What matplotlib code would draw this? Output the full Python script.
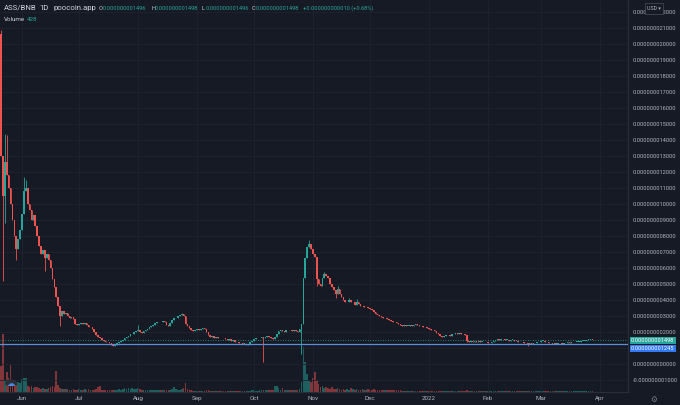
import matplotlib
matplotlib.use('Agg')
import matplotlib.pyplot as plt
import matplotlib.dates as mdates
from matplotlib.patches import Rectangle, Circle
import datetime as dt

# ---------------- data (price in units of 1e-9 BNB) ----------------
start_date = dt.date(2021, 5, 21)
first_open = 20.6
close = [
    13.0, 10.5, 12.6, 11.8, 11.0, 10.0, 9.0, 8.0, 7.2, 7.8,
    8.4, 9.4, 10.8, 11.0, 10.0, 9.6, 9.0, 9.3, 8.6, 8.0,
    7.4, 6.9, 7.1, 6.6, 6.9, 6.5, 6.0, 5.3, 4.8, 4.2,
    3.6, 3.0, 3.3, 3.1, 3.2, 3.0, 2.9, 2.95, 2.8, 2.5,
    2.45, 2.5, 2.55, 2.5, 2.55, 2.45, 2.3, 2.3, 2.2, 2.0,
    1.8, 1.7, 1.6, 1.5, 1.45, 1.4, 1.35, 1.3, 1.2, 1.15,
    1.2, 1.3, 1.35, 1.45, 1.5, 1.6, 1.7, 1.75, 1.85, 1.9,
    2.0, 2.05, 2.1, 2.0, 1.95, 2.05, 2.15, 2.2, 2.3, 2.35,
    2.45, 2.55, 2.6, 2.65, 2.6, 2.7, 2.6, 2.45, 2.4, 2.55,
    2.75, 2.85, 2.9, 3.0, 3.05, 3.1, 3.0, 2.5, 2.35, 2.25,
    2.15, 2.05, 2.15, 2.2, 2.15, 2.2, 2.25, 2.2, 2.0, 1.8,
    1.7, 1.75, 1.65, 1.7, 1.65, 1.6, 1.65, 1.6, 1.55, 1.5,
    1.55, 1.45, 1.5, 1.4, 1.35, 1.3, 1.3, 1.25, 1.25, 1.2,
    1.25, 1.35, 1.45, 1.55, 1.6, 1.6, 1.65, 1.7, 1.65, 1.7,
    1.75, 1.7, 1.65, 1.55, 1.7, 1.85, 2.05, 2.15, 2.05, 2.0,
    2.1, 2.15, 2.1, 2.05, 2.1, 2.05, 2.0, 2.2, 2.5, 5.4,
    6.6, 7.3, 7.5, 7.2, 6.9, 6.7, 5.3, 5.0, 4.9, 5.4,
    5.6, 5.5, 5.4, 5.0, 4.8, 4.6, 4.4, 4.7, 4.4, 4.2,
    4.0, 3.85, 3.9, 4.0, 3.85, 3.9, 3.7, 3.9, 3.75, 3.6,
    3.6, 3.55, 3.55, 3.5, 3.45, 3.35, 3.25, 3.15, 3.05, 3.0,
    2.95, 2.85, 2.85, 2.8, 2.75, 2.7, 2.65, 2.6, 2.55, 2.5,
    2.45, 2.4, 2.45, 2.4, 2.4, 2.45, 2.4, 2.45, 2.5, 2.45,
    2.4, 2.35, 2.3, 2.3, 2.25, 2.2, 2.15, 2.1, 2.05, 1.95,
    1.85, 1.75, 1.7, 1.75, 1.8, 1.8, 1.75, 1.85, 1.9, 1.95,
    1.9, 1.95, 1.9, 1.85, 1.8, 1.45, 1.4, 1.45, 1.4, 1.45,
    1.4, 1.45, 1.4, 1.4, 1.35, 1.35, 1.3, 1.3, 1.35, 1.45,
    1.5, 1.55, 1.5, 1.55, 1.55, 1.5, 1.5, 1.45, 1.5, 1.5,
    1.45, 1.45, 1.4, 1.35, 1.35, 1.3, 1.3, 1.25, 1.3, 1.25,
    1.3, 1.3, 1.35, 1.4, 1.45, 1.45, 1.4, 1.35, 1.3, 1.3,
    1.25, 1.3, 1.25, 1.3, 1.3, 1.25, 1.3, 1.3, 1.35, 1.3,
    1.35, 1.35, 1.4, 1.4, 1.4, 1.45, 1.45, 1.45, 1.5, 1.5,
    1.5, 1.498,
]
wick_high = {0: 20.9, 2: 14.4, 3: 14.3, 12: 11.7, 13: 11.5, 72: 2.45,
             95: 3.2, 162: 7.75, 170: 5.75, 177: 4.9, 183: 4.15, 187: 4.05}
wick_low = {1: 5.2, 2: 8.8, 8: 6.5, 23: 5.8, 31: 2.4, 59: 1.1, 138: 0.1,
            158: 0.6, 166: 4.9, 176: 4.1, 245: 1.35, 277: 1.1}
volume = [
    26, 58, 12, 20, 14, 27, 10, 9, 7, 10,
    9, 13, 14, 14, 6, 5, 6, 4, 5, 5,
    4, 3, 4, 3, 3, 4, 5, 6, 5, 21,
    7, 4, 3, 3, 3, 3, 2, 2, 3, 2,
    2, 3, 2, 2, 3, 2, 3, 2, 2, 2,
    3, 5, 6, 2, 2, 2, 2, 2, 2, 2,
    2, 2, 3, 2, 3, 4, 3, 4, 3, 4,
    3, 3, 4, 3, 2, 2, 2, 2, 2, 2,
    2, 2, 2, 2, 2, 2, 2, 2, 2, 2,
    3, 5, 3, 2, 2, 3, 4, 9, 3, 2,
    2, 1.5, 1.5, 1.5, 1.5, 1.5, 1.5, 1.5, 2, 2,
    1.5, 1.5, 1.5, 1.5, 1.5, 1.5, 1.5, 1.5, 1.5, 1.5,
    1.5, 1.5, 1.5, 1.5, 1.5, 1.5, 1.5, 1.5, 1.5, 1.5,
    1.5, 1.5, 2, 2, 1.5, 1.5, 2, 2, 2, 2,
    2, 2, 2, 2, 6, 6, 4, 2, 4, 2,
    2, 2, 2, 2, 2, 2, 2, 3, 10, 45,
    30, 18, 12, 10, 14, 20, 12, 8, 5, 6,
    4, 5, 4, 3, 5, 3, 3, 4, 3, 2,
    3, 2, 3, 2, 4, 3, 2, 3, 2, 2,
    3, 2, 2, 3, 2, 2, 3, 2, 2, 2,
    2, 2, 2, 2, 2, 2, 2, 2, 2, 2,
    2, 1.5, 1.5, 1.5, 1.5, 1.5, 1.5, 1.5, 1.5, 1.5,
    1.5, 1.5, 1.5, 1.5, 1.5, 1.5, 1.5, 1.5, 1.5, 1.5,
    1.5, 1.5, 1.5, 1.5, 1.5, 1.5, 1.5, 1.5, 1.5, 1.5,
    1.5, 1.5, 1.5, 1.5, 1.5, 2, 1.5, 1.5, 1.5, 1.5,
    1, 1, 1, 1, 1, 1, 1, 1, 1, 1,
    1, 1, 1, 1, 1, 1, 1, 1, 1, 1,
    1, 1, 1, 1, 1, 1, 1, 1, 1, 1,
    1, 1, 1, 1, 1, 1, 1, 1, 1, 1,
    1, 1, 1, 1, 1, 1, 1, 1, 1, 1,
    1, 1, 1, 1, 1, 1, 1, 1, 1, 1,
    1, 1,
]
month_ticks = ['2021-06-01', '2021-07-01', '2021-08-01', '2021-09-01', '2021-10-01',
               '2021-11-01', '2021-12-01', '2022-01-01', '2022-02-01', '2022-03-01',
               '2022-04-01']
month_labels = ['Jun', 'Jul', 'Aug', 'Sep', 'Oct', 'Nov', 'Dec', '2022', 'Feb', 'Mar', 'Apr']
price_ticks = list(range(-1, 23))
hidden_ticks = [1]          # label covered by the price-scale badges
last_price = 1.498
line_price = 1.245
UNIT = 1e-9

# ---------------- style ----------------
BG = '#161a25'
GRID = '#1f2330'
UP = '#26a69a'
DOWN = '#ef5350'
TXT = '#b2b5be'
plt.rcParams['font.family'] = ['Roboto', 'DejaVu Sans']

W, H = 680, 405
fig = plt.figure(figsize=(6.8, 4.05), dpi=100, facecolor=BG)

def fx(px):
    return px / W

def fy(py):
    return 1 - py / H

ax = fig.add_axes([0, fy(392), fx(628), 392 / H])
axv = ax.twinx()
ax.set_zorder(2)
axv.set_zorder(1)
ax.patch.set_visible(False)
axv.patch.set_facecolor(BG)

n = len(close)
dates = [start_date + dt.timedelta(days=i) for i in range(n)]
xs = mdates.date2num(dates)
opens = [first_open] + close[:-1]
highs, lows, cols, bott, hts = [], [], [], [], []
for i in range(n):
    o, c = opens[i], close[i]
    highs.append(wick_high.get(i, max(o, c)) * UNIT)
    lows.append(wick_low.get(i, min(o, c)) * UNIT)
    cols.append(UP if c >= o else DOWN)
    bott.append(min(o, c) * UNIT)
    hts.append(max(abs(c - o), 0.035) * UNIT)

# volume
axv.bar(xs, volume, width=0.85, color=cols, alpha=0.5, linewidth=0)
axv.set_ylim(0, 392)
axv.axis('off')

# candles
ax.vlines(xs, lows, highs, colors=cols, linewidth=0.6, zorder=3)
ax.bar(xs, hts, bottom=bott, width=0.85, color=cols, linewidth=0, zorder=4)

x0 = mdates.date2num(start_date)
ax.set_xlim(x0 - 0.57, x0 + 329.73)
ax.set_ylim((364 - 392) / 16 * UNIT, 364 / 16 * UNIT)

# price lines
ax.axhline(last_price * UNIT, color=UP, lw=0.6, ls=(0, (1, 2)), zorder=5)
ax.axhline(line_price * UNIT, color='#5b8dd9', lw=0.9, zorder=5)

# grid / ticks
ax.set_yticks([tk * UNIT for tk in price_ticks])
ax.set_yticklabels([('' if tk in hidden_ticks else '%.12f' % (tk * UNIT)) for tk in price_ticks])
ax.yaxis.tick_right()
ax.set_xticks([mdates.date2num(dt.date.fromisoformat(d)) for d in month_ticks])
ax.set_xticklabels(month_labels)
ax.tick_params(axis='y', length=0, pad=3.5, labelsize=4.1, labelcolor=TXT)
ax.tick_params(axis='x', length=0, pad=3.2, labelsize=4.5, labelcolor=TXT)
ax.grid(True, color=GRID, lw=0.6, zorder=0)
ax.set_axisbelow(True)
for s in ['top', 'left']:
    ax.spines[s].set_visible(False)
for s in ['right', 'bottom']:
    ax.spines[s].set_color('#2a2e39')
    ax.spines[s].set_linewidth(0.8)

# header text
def t(px, py, s, size, color, **kw):
    fig.text(fx(px), fy(py), s, fontsize=size, color=color, va='center', ha='left', **kw)

t(4, 8, 'ASS/BNB', 5.6, '#d1d4dc')
t(39, 8, '1D', 5.6, '#d1d4dc')
t(53, 8, 'poocoin.app', 5.6, '#d1d4dc')
for lx, letter, val in [(99, 'O', '0.000000001496'), (151, 'H', '0.000000001498'),
                        (202, 'L', '0.000000001496'), (252, 'C', '0.000000001498')]:
    t(lx, 8, letter, 4.1, '#d1d4dc')
    t(lx + 4, 8, val, 4.1, UP)
t(303, 8, '+0.000000000010 (+0.68%)', 4.1, UP)
t(4, 19.5, 'Volume', 4.5, '#d1d4dc')
t(27, 19.5, '428', 4.5, UP)

# price scale labels
fig.text(fx(631), fy(340.3), '0.000000001498', fontsize=4.1, color='white', va='center',
         ha='left', bbox=dict(boxstyle='square,pad=0.2', fc=UP, ec='none'), zorder=10)
fig.text(fx(631), fy(348.3), '0.000000001245', fontsize=4.1, color='white', va='center',
         ha='left', bbox=dict(boxstyle='square,pad=0.2', fc='#3179f5', ec='none'), zorder=10)

# USD button
fig.patches.append(Rectangle((fx(645), fy(14)), fx(18), 11 / H, transform=fig.transFigure,
                             fc=BG, ec='#4a4e5a', lw=0.5, zorder=10))
fig.text(fx(654), fy(8.5), 'USD ▾', fontsize=3.8, color=TXT, va='center', ha='center',
         family=['Roboto', 'DejaVu Sans'], zorder=11)

# gear icon
fig.text(fx(654), fy(399), '⚙', fontsize=5.5, color='#787b86', va='center', ha='center',
         family=['DejaVu Sans'])

# logo badge
fig.patches.append(Circle((fx(11), fy(383)), 6 / W, transform=fig.transFigure,
                          fc='#2a2e39', ec='none', zorder=10))
fig.text(fx(11), fy(383), '☁', fontsize=6, color='#4c8be0', va='center', ha='center',
         family=['DejaVu Sans'], zorder=11)

fig.savefig('out.png', dpi=100, facecolor=BG)
